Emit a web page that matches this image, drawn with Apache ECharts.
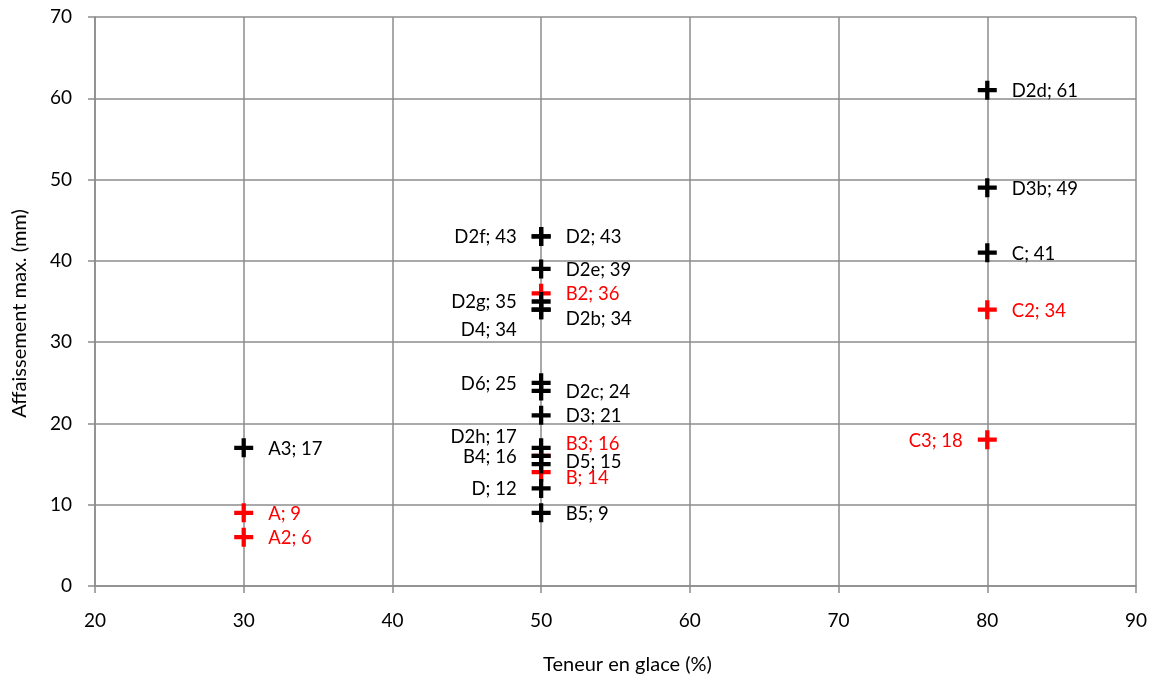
<!DOCTYPE html>
<html>
<head>
<meta charset="utf-8">
<script src="https://cdn.jsdelivr.net/npm/echarts@6/dist/echarts.min.js"></script>
<style>
html,body{margin:0;padding:0;background:#fff;}
#main{width:1153px;height:682px;}
</style>
</head>
<body>
<div id="main"></div>
<script>
// ---- data ----
const blackNames = ['A3','D2d','D3b','C','D2f','D2','D2e','D2g','D4','D2b','D6','D2c','D3','D2h','B4','D5','D','B5'];
const blackX     = [30, 80, 80, 80, 50, 50, 50, 50, 50, 50, 50, 50, 50, 50, 50, 50, 50, 50];
const blackY     = [17, 61, 49, 41, 43, 43, 39, 35, 34, 34, 25, 24, 21, 17, 16, 15, 12, 9];

const redNames = ['A','A2','B','B2','B3','C2','C3'];
const redX     = [30, 30, 50, 50, 50, 80, 80];
const redY     = [9, 6, 14, 36, 16, 34, 18];

const xTicks = [20, 30, 40, 50, 60, 70, 80, 90];
const yTicks = [0, 10, 20, 30, 40, 50, 60, 70];

const xTitle = 'Teneur en glace (%)';
const yTitle = 'Affaissement max. (mm)';

// ---- label placement (layout only) ----
const leftLabels = ['D2f','D2g','D4','D6','D2h','B4','D','C3'];
const labelShift = {D4: 19, D2b: 8, D2h: -12, B3: -13, D5: -3, B: 5};

const FONT = 'Lato, "Open Sans", sans-serif';
const plusPath = 'path://M7.75,0h4.5v7.75h7.75v4.5h-7.75v7.75h-4.5v-7.75h-7.75v-4.5h7.75z';

function build(names, xs, ys, color) {
  return names.map((n, i) => {
    const left = leftLabels.indexOf(n) >= 0;
    return {
      name: n,
      value: [xs[i], ys[i]],
      label: {
        show: true,
        position: left ? 'left' : 'right',
        distance: 15,
        offset: [0, (labelShift[n] || 0) + 1],
        color: color,
        fontFamily: FONT,
        fontSize: 18.5,
        formatter: p => p.name + '; ' + p.value[1]
      }
    };
  });
}

const gridColor = '#8c8c8c';
const chart = echarts.init(document.getElementById('main'));
chart.setOption({
  animation: false,
  backgroundColor: '#ffffff',
  grid: {left: 95, right: 17, top: 17, bottom: 96, containLabel: false, outerBoundsMode: 'none'},
  xAxis: {
    type: 'value',
    min: xTicks[0], max: xTicks[xTicks.length - 1], interval: 10,
    name: xTitle, nameLocation: 'middle', nameGap: 69,
    nameTextStyle: {fontFamily: FONT, fontSize: 20, color: '#000', padding: [0, 0, 0, 24]},
    axisLine: {show: true, lineStyle: {color: gridColor, width: 1.5}},
    axisTick: {show: true, inside: false, length: 7, lineStyle: {color: gridColor, width: 1.5}},
    axisLabel: {margin: 25, fontFamily: FONT, fontSize: 19, color: '#000'},
    splitLine: {show: true, lineStyle: {color: gridColor, width: 1.5}}
  },
  yAxis: {
    type: 'value',
    min: yTicks[0], max: yTicks[yTicks.length - 1], interval: 10,
    name: yTitle, nameLocation: 'middle', nameGap: 65, nameRotate: 90,
    nameTextStyle: {fontFamily: FONT, fontSize: 20, color: '#000', padding: [0, 24, 0, 0]},
    axisLine: {show: true, lineStyle: {color: gridColor, width: 1.5}},
    axisTick: {show: true, inside: false, length: 7, lineStyle: {color: gridColor, width: 1.5}},
    axisLabel: {margin: 23, fontFamily: FONT, fontSize: 19, color: '#000'},
    splitLine: {show: true, lineStyle: {color: gridColor, width: 1.5}}
  },
  series: [
    {
      name: 'red', type: 'scatter', symbol: plusPath, symbolSize: 19,
      itemStyle: {color: '#ff0000', opacity: 1},
      data: build(redNames, redX, redY, '#ff0000'),
      z: 2
    },
    {
      name: 'black', type: 'scatter', symbol: plusPath, symbolSize: 19,
      itemStyle: {color: '#000000', opacity: 1},
      data: build(blackNames, blackX, blackY, '#000000'),
      z: 3
    }
  ]
});
</script>
</body>
</html>
